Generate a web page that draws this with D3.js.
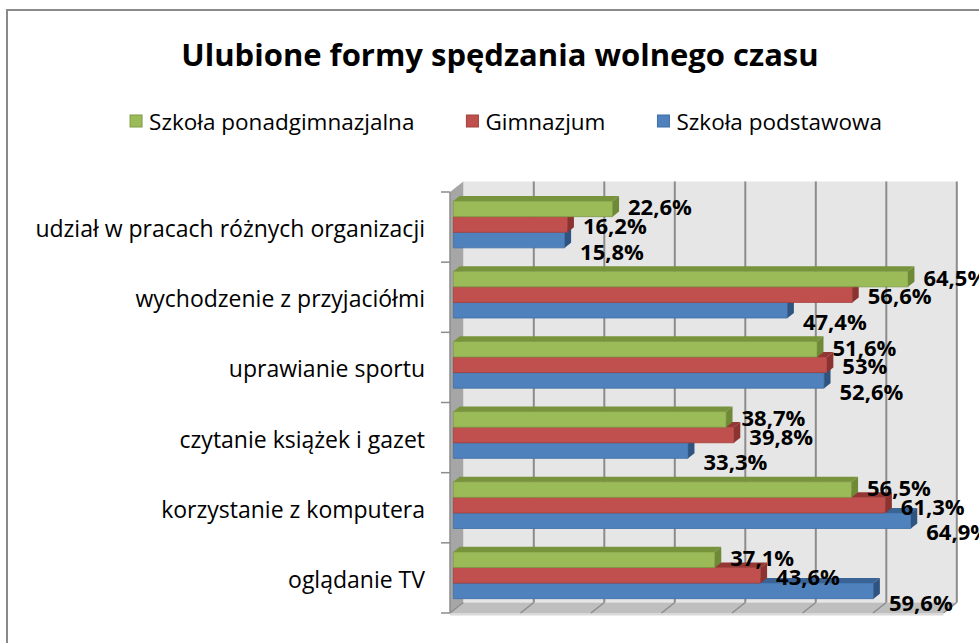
<!DOCTYPE html>
<html>
<head>
<meta charset="utf-8">
<script src="https://cdn.jsdelivr.net/npm/d3@7"></script>
<style>
  body { margin: 0; background: #fff; }
  text { font-family: "Open Sans", Lato, sans-serif; fill: #000; }
</style>
</head>
<body>
<svg width="979" height="643"></svg>
<script>

// data, categories listed top to bottom as in the picture
const categories = [
  'udział w pracach różnych organizacji',
  'wychodzenie z przyjaciółmi',
  'uprawianie sportu',
  'czytanie książek i gazet',
  'korzystanie z komputera',
  'oglądanie TV'
]
const seriesNames = ['Szkoła ponadgimnazjalna', 'Gimnazjum', 'Szkoła podstawowa']
const ponadgimnazjalna = [22.6, 64.5, 51.6, 38.7, 56.5, 37.1]
const gimnazjum = [16.2, 56.6, 53, 39.8, 61.3, 43.6]
const podstawowa = [15.8, 47.4, 52.6, 33.3, 64.9, 59.6]
const xTicks = [0, 10, 20, 30, 40, 50, 60, 70]

const seriesValues = [ponadgimnazjalna, gimnazjum, podstawowa]
const colors = {
  'Szkoła ponadgimnazjalna': { front: '#9bbb59', top: '#77933c', side: '#6f8a37', line: '#7f9a48' },
  'Gimnazjum': { front: '#c0504d', top: '#943634', side: '#8c3331', line: '#a4403d' },
  'Szkoła podstawowa': { front: '#4f81bd', top: '#3a6396', side: '#2f5482', line: '#3d6ea8' }
}
const labelShift = { 'Szkoła ponadgimnazjalna': -5, 'Gimnazjum': -2, 'Szkoła podstawowa': 8 }

let svg = d3.select('svg')

// chart frame (cut off at right and bottom like the picture)
svg.append('rect')
  .attr('x', 7).attr('y', 10)
  .attr('width', 1000).attr('height', 700)
  .attr('fill', 'none')
  .attr('stroke', '#8a8a8a')
  .attr('stroke-width', 2)

svg.append('text')
  .attr('x', 500).attr('y', 66)
  .attr('text-anchor', 'middle')
  .style('font-size', '31px')
  .style('font-weight', 'bold')
  .text('Ulubione formy spędzania wolnego czasu')

// legend
let legend = svg.append('g')
let lx = 0
seriesNames.forEach(s => {
  let g = legend.append('g').attr('transform', `translate(${lx},0)`)
  g.append('rect')
    .attr('x', 0).attr('y', -6)
    .attr('width', 12).attr('height', 12)
    .attr('fill', colors[s].front)
    .attr('stroke', colors[s].line)
  let t = g.append('text')
    .attr('x', 19).attr('y', 0)
    .attr('dominant-baseline', 'central')
    .style('font-size', '22.5px')
    .text(s)
  lx += 19 + t.node().getComputedTextLength() + 52
})
lx -= 52
legend.attr('transform', `translate(${506 - lx / 2},121)`)

// 3d geometry: front plane + depth vector
const frontX = 450
const depth = [13.3, -10.5]
const barFront = 0.25, barBack = 0.73

let x = d3.scaleLinear().domain([0, 70]).range([0, 493.5])
let y = d3.scaleBand().domain(categories).range([192, 613])
let y1 = d3.scaleBand().domain(seriesNames).range([0, y.bandwidth()]).paddingOuter(0.75)

function P(v, yy, d) {
  return [frontX + x(v) + d * depth[0], yy + d * depth[1]]
}
const y0 = y.range()[0], yEnd = y.range()[1]
let line = d3.line()

// walls
svg.append('path')
  .attr('d', line([P(0, y0, 1), P(70, y0, 1), P(70, yEnd, 1), P(0, yEnd, 1)]) + 'Z')
  .attr('fill', '#e6e6e6')
svg.append('path')
  .attr('d', line([P(0, y0, 0), P(0, y0, 1), P(0, yEnd, 1), P(0, yEnd, 0)]) + 'Z')
  .attr('fill', '#a6a6a6')
svg.append('path')
  .attr('d', line([P(0, yEnd, 0), P(0, yEnd, 1), P(70, yEnd, 1), P(70, yEnd, 0)]) + 'Z')
  .attr('fill', '#bfbfbf')
svg.append('path')
  .attr('d', line([P(0, yEnd, 0), P(70, yEnd, 0), [P(70, yEnd, 0)[0], yEnd + 2.5], [P(0, yEnd, 0)[0], yEnd + 2.5]]) + 'Z')
  .attr('fill', '#d9d9d9')

// gridlines on the back wall and on the floor
let grid = svg.append('g').attr('stroke', '#8c8c8c').attr('stroke-width', 2)
xTicks.filter(t => t > 0).forEach(t => {
  grid.append('path').attr('d', line([P(t, y0, 1), P(t, yEnd, 1)]))
})
xTicks.forEach(t => {
  grid.append('path').attr('d', line([P(t, yEnd, 1), P(t, yEnd, 0)])).attr('stroke-width', 1.5)
})

// category axis
let axis = svg.append('g').attr('stroke', '#8c8c8c').attr('stroke-width', 1.5)
axis.append('path').attr('d', line([[frontX, y0], [frontX, yEnd]]))
categories.map(c => y(c)).concat([yEnd]).forEach(yy => {
  axis.append('path').attr('d', line([[frontX - 9, yy], [frontX, yy]]))
})

svg.append('g')
  .selectAll('text')
  .data(categories)
  .enter().append('text')
  .attr('x', 425)
  .attr('y', d => y(d) + y.bandwidth() / 2 + 1)
  .attr('text-anchor', 'end')
  .attr('dominant-baseline', 'central')
  .style('font-size', '23px')
  .text(d => d)

// bars, drawn bottom series first so upper bars hide the top faces below
let bars = []
categories.forEach((c, i) => {
  seriesNames.forEach((s, j) => {
    bars.push({ cat: c, series: s, value: seriesValues[j][i], order: j })
  })
})
bars.sort((a, b) => b.order - a.order)

let barG = svg.append('g')
bars.forEach(b => {
  let top = y(b.cat) + y1(b.series)
  let bot = top + y1.bandwidth()
  let col = colors[b.series]
  barG.append('path')
    .attr('d', line([P(0, top, barFront), P(b.value, top, barFront), P(b.value, bot, barFront), P(0, bot, barFront)]) + 'Z')
    .attr('fill', col.front)
    .attr('stroke', col.line)
    .attr('stroke-width', 0.8)
  barG.append('path')
    .attr('d', line([P(0, top, barFront), P(b.value, top, barFront), P(b.value, top, barBack), P(0, top, barBack)]) + 'Z')
    .attr('fill', col.top)
  barG.append('path')
    .attr('d', line([P(b.value, top, barFront), P(b.value, top, barBack), P(b.value, bot, barBack), P(b.value, bot, barFront)]) + 'Z')
    .attr('fill', col.side)
})

// value labels
svg.append('g')
  .selectAll('text')
  .data(bars)
  .enter().append('text')
  .attr('x', d => P(d.value, 0, barBack)[0] + 9)
  .attr('y', d => y(d.cat) + y1(d.series) + y1.bandwidth() / 2 + labelShift[d.series])
  .attr('dominant-baseline', 'central')
  .style('font-size', '22px')
  .style('font-weight', 'bold')
  .text(d => String(d.value).replace('.', ',') + '%')

</script>
</body>
</html>
